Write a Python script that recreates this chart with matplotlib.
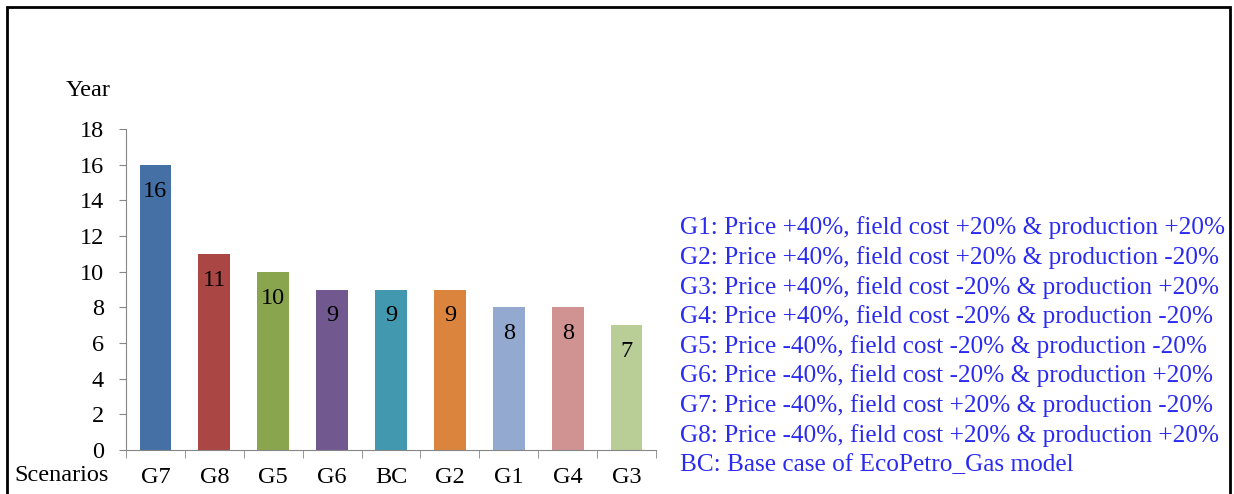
import matplotlib
matplotlib.use("Agg")
import matplotlib.pyplot as plt
from matplotlib.patches import Rectangle
import numpy as np

plt.rcParams['font.family'] = ['Liberation Serif', 'DejaVu Serif']

scenarios = ['G7', 'G8', 'G5', 'G6', 'BC', 'G2', 'G1', 'G4', 'G3']
years = [16, 11, 10, 9, 9, 9, 8, 8, 7]
colors = ['#4470A5', '#AA4643', '#89A54E', '#71588F', '#4198AF',
          '#DB843D', '#93A9CF', '#D19392', '#B9CD96']
notes = [
    'G1: Price +40%, field cost +20% & production +20%',
    'G2: Price +40%, field cost +20% & production -20%',
    'G3: Price +40%, field cost -20% & production +20%',
    'G4: Price +40%, field cost -20% & production -20%',
    'G5: Price -40%, field cost -20% & production -20%',
    'G6: Price -40%, field cost -20% & production +20%',
    'G7: Price -40%, field cost +20% & production -20%',
    'G8: Price -40%, field cost +20% & production +20%',
    'BC: Base case of EcoPetro_Gas model',
]

W, H = 1234, 494
fig = plt.figure(figsize=(W / 100, H / 100), dpi=100)
ax = fig.add_axes([126 / W, 1 - 450 / H, 530 / W, 321 / H])

x = np.arange(len(scenarios))
bars = ax.bar(x, years, width=0.54, color=colors)
for b, v in zip(bars, years):
    ax.annotate(str(v), (b.get_x() + b.get_width() / 2, v), xytext=(0, -19),
                textcoords='offset points', ha='center', va='center',
                fontsize=17.5, color='black')

ax.set_xlim(-0.5, len(scenarios) - 0.5)
ax.set_ylim(0, 18)
ax.set_yticks(range(0, 19, 2))
ax.tick_params(axis='y', labelsize=17.5, length=5, color='#868686', pad=11)
ax.set_xticks(x)
ax.set_xticklabels(scenarios)
ax.tick_params(axis='x', which='major', length=0, labelsize=17.5, pad=12)
ax.set_xticks(np.arange(-0.5, len(scenarios)), minor=True)
ax.tick_params(axis='x', which='minor', length=6, color='#868686')
for s in ['top', 'right']:
    ax.spines[s].set_visible(False)
for s in ['left', 'bottom']:
    ax.spines[s].set_color('#868686')

fig.text(88 / W, 1 - 90 / H, 'Year', fontsize=17.5, ha='center', va='center')
fig.text(62 / W, 1 - 475 / H, 'Scenarios', fontsize=17.5, ha='center', va='center')

for i, t in enumerate(notes):
    fig.text(680 / W, 1 - (228 + i * 29.6) / H, t, fontsize=18.2,
             color='#2B2BF0', ha='left', va='center')

fig.patches.append(Rectangle((7 / W, -0.1), 1223 / W, 1.1 - 7 / H,
                             transform=fig.transFigure, fill=False,
                             edgecolor='black', linewidth=2))

fig.savefig('out.png', dpi=100)
